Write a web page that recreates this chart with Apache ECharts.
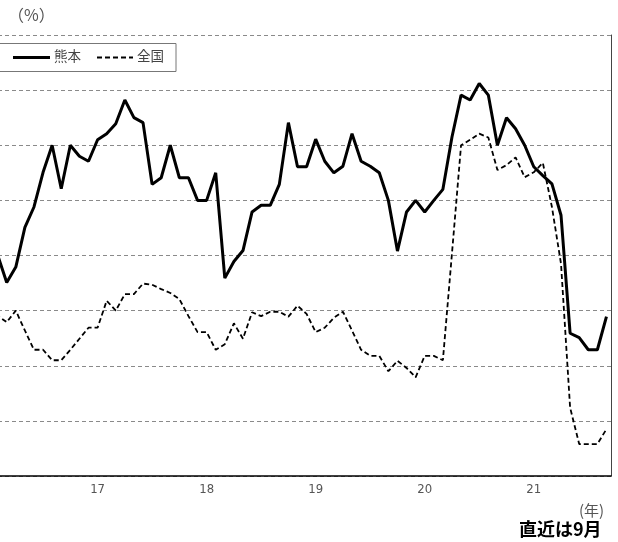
<!DOCTYPE html>
<html><head><meta charset="utf-8">
<script src="https://cdn.jsdelivr.net/npm/echarts@6/dist/echarts.min.js"></script>
<style>html,body{margin:0;padding:0;background:#fff;overflow:hidden;width:618px;height:542px}#c{position:absolute;left:-16px;top:0;width:634px;height:542px}</style>
</head><body><div id="c"></div>
<script>
// Months: Jan 2016 .. Sep 2021
const months = [];
for (let y = 2016; y <= 2021; y++) for (let m = 1; m <= 12; m++) { if (y === 2021 && m > 9) break; months.push(y + '-' + (m < 10 ? '0' + m : m)); }

const kumamoto = [
  3.90, 4.01, 3.51, 3.79, 4.51, 4.88, 5.51, 6.00, 5.21, 6.00, 5.80, 5.71,
  6.10, 6.21, 6.39, 6.82, 6.50, 6.41, 5.29, 5.41, 6.00, 5.41, 5.41, 5.00,
  5.00, 5.50, 3.59, 3.89, 4.09, 4.79, 4.91, 4.91, 5.29, 6.41, 5.61, 5.61,
  6.11, 5.71, 5.50, 5.62, 6.21, 5.71, 5.62, 5.50, 5.00, 4.08, 4.79, 5.00,
  4.79, 5.00, 5.20, 6.15, 6.91, 6.82, 7.12, 6.91, 6.00, 6.50, 6.30, 6.00,
  5.61, 5.45, 5.30, 4.73, 2.59, 2.51, 2.29, 2.29, 2.89
];
const zenkoku = [
  3.00, 2.91, 2.79, 3.00, 2.64, 2.29, 2.29, 2.10, 2.10, 2.29, 2.49, 2.69,
  2.69, 3.18, 3.00, 3.30, 3.30, 3.49, 3.47, 3.39, 3.32, 3.21, 2.90, 2.61,
  2.61, 2.29, 2.39, 2.77, 2.49, 2.97, 2.90, 2.98, 2.98, 2.89, 3.09, 2.94,
  2.61, 2.69, 2.87, 2.98, 2.64, 2.29, 2.18, 2.18, 1.90, 2.09, 1.96, 1.79,
  2.18, 2.18, 2.10, 4.04, 6.00, 6.10, 6.21, 6.14, 5.55, 5.64, 5.78, 5.42,
  5.51, 5.68, 4.88, 3.85, 1.24, 0.58, 0.58, 0.58, 0.85
];
const seriesNames = ['熊本', '全国'];
const yMin = 0, yMax = 8, yStep = 1;

const OX = 16; // the chart canvas starts 16px left of the page
const chart = echarts.init(document.getElementById('c'), null, {renderer: 'canvas'});
const narrow = '"Liberation Sans Narrow", "DejaVu Sans Condensed", "Arial Narrow", "Roboto", sans-serif';
const jp = '"Noto Sans CJK JP", sans-serif';
chart.setOption({
  animation: false,
  backgroundColor: '#fff',
  grid: { left: 0, right: 7, top: 35, bottom: 66, containLabel: false, outerBoundsMode: 'none' },
  xAxis: {
    type: 'category', data: months, boundaryGap: true,
    axisLine: { lineStyle: { color: '#000', width: 1.5 } },
    axisTick: { inside: true, length: 5, lineStyle: { color: '#000' },
      interval: (i, v) => v.endsWith('-01') },
    axisLabel: { color: '#555', fontFamily: narrow, fontSize: 13, margin: 7,
      interval: (i, v) => v.endsWith('-01') && !v.startsWith('2016'),
      formatter: v => v.slice(2, 4) }
  },
  yAxis: [
    { type: 'value', min: yMin, max: yMax, interval: yStep,
      axisLine: { show: false }, axisTick: { show: false }, axisLabel: { show: false },
      splitLine: { lineStyle: { color: '#8a8a8a', type: [4, 3], width: 1 } } },
    { type: 'value', min: yMin, max: yMax, interval: yStep, position: 'right',
      axisLine: { show: true, lineStyle: { color: '#444', width: 1 } },
      axisTick: { show: false }, axisLabel: { show: false }, splitLine: { show: false } }
  ],
  graphic: [
    { type: 'rect', z: 10, shape: { x: -5 + OX, y: 43.5, width: 181, height: 28 },
      style: { fill: '#fff', stroke: '#777', lineWidth: 1 } },
    { type: 'line', z: 11, shape: { x1: 13 + OX, y1: 57.5, x2: 50 + OX, y2: 57.5 },
      style: { stroke: '#000', lineWidth: 3 } },
    { type: 'text', z: 11, left: 54 + OX, top: 49, style: { text: seriesNames[0], font: '13.5px ' + jp, fill: '#444' } },
    { type: 'line', z: 11, shape: { x1: 97 + OX, y1: 57.5, x2: 133 + OX, y2: 57.5 },
      style: { stroke: '#000', lineWidth: 1.8, lineDash: [5, 3] } },
    { type: 'text', z: 11, left: 137 + OX, top: 49, style: { text: seriesNames[1], font: '13.5px ' + jp, fill: '#444' } },
    { type: 'text', left: 8 + OX, top: 7, style: { text: '（%）', font: '16px ' + jp, fill: '#555' } },
    { type: 'text', left: 579 + OX, top: 503, style: { text: '(年)', font: '15px ' + jp, fill: '#555' } },
    { type: 'text', left: 519 + OX, top: 520, style: { text: '直近は9月', font: 'bold 18px ' + jp, fill: '#000' } }
  ],
  series: [
    { name: seriesNames[0], type: 'line', data: kumamoto, symbol: 'none', z: 5,
      lineStyle: { color: '#000', width: 3 } },
    { name: seriesNames[1], type: 'line', data: zenkoku, symbol: 'none', z: 4,
      lineStyle: { color: '#000', width: 1.8, type: [5, 3] } }
  ]
});
</script></body></html>
